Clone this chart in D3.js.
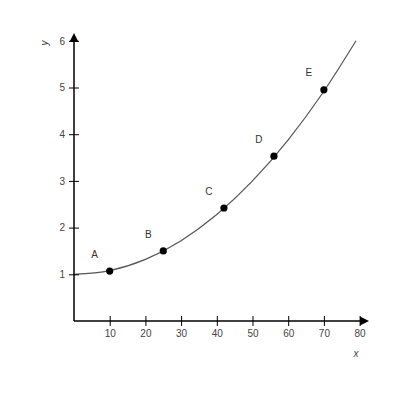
<!DOCTYPE html>
<html>
<head>
<meta charset="utf-8">
<script src="https://cdn.jsdelivr.net/npm/d3@7"></script>
<style>
	body{margin:0;background:#fff;}
	text{font-family:"Liberation Sans",Arial,sans-serif;}
</style>
</head>
<body>
<div id="grafica"></div>
<script>
// puntos marcados sobre la curva
var etiquetas=["A","B","C","D","E"];
var puntosX=[10,25,42,56,70];
var puntosY=[1.07,1.5,2.42,3.53,4.95];

// la curva
var curvaX=[0,10,20,30,40,50,60,70,79];
var curvaY=[1.0,1.08,1.32,1.72,2.28,3.0,3.88,4.92,6.0];

var ticksX=[10,20,30,40,50,60,70,80];
var ticksY=[1,2,3,4,5,6];

var ancho=400, alto=400;

var svg=d3.select("#grafica")
	.append("svg")
	.attr("width",ancho)
	.attr("height",alto);

var x=d3.scaleLinear().domain([0,80]).range([74,359.6]);
var y=d3.scaleLinear().domain([0,6]).range([321,40.8]);

// curva
var linea=d3.line()
	.x(d=>x(d[0]))
	.y(d=>y(d[1]))
	.curve(d3.curveMonotoneX);

svg.append("path")
	.datum(d3.zip(curvaX,curvaY))
	.attr("d",linea)
	.style("fill","none")
	.style("stroke","#555")
	.style("stroke-width","1.2px");

// ejes
var ejeX=svg.append("g").attr("transform",`translate(0,${y(0)})`)
	.call(d3.axisBottom(x).tickValues(ticksX).tickFormat(d3.format("d")).tickSize(5).tickSizeOuter(0));
var ejeY=svg.append("g").attr("transform",`translate(${x(0)},0)`)
	.call(d3.axisLeft(y).tickValues(ticksY).tickFormat(d3.format("d")).tickSize(5).tickSizeOuter(0));

[ejeX,ejeY].forEach(function(g){
	g.select(".domain").remove();
	g.selectAll(".tick line").style("stroke","#000").style("stroke-width","1px");
	g.selectAll(".tick text").style("font-size","10px").style("fill","#444");
});
// marcas que cruzan el eje
ejeX.selectAll(".tick line").attr("y1",-5).attr("y2",5);
ejeX.selectAll(".tick text").attr("y",9);
ejeY.selectAll(".tick line").attr("x1",5).attr("x2",-5);
ejeY.selectAll(".tick text").attr("x",-9);

svg.append("line")
	.attr("x1",x(0)).attr("x2",362)
	.attr("y1",y(0)).attr("y2",y(0))
	.style("stroke","#000").style("stroke-width","1.5px");
svg.append("path")
	.attr("d",`M369,${y(0)} L360,${y(0)-4.5} L360,${y(0)+4.5} Z`)
	.style("fill","#000");

svg.append("line")
	.attr("x1",x(0)).attr("x2",x(0))
	.attr("y1",y(0)).attr("y2",40)
	.style("stroke","#000").style("stroke-width","1.5px");
svg.append("path")
	.attr("d",`M${x(0)},33 L${x(0)-4.5},42 L${x(0)+4.5},42 Z`)
	.style("fill","#000");

// titulos de ejes
svg.append("text")
	.attr("transform","translate(45,43) rotate(-90)")
	.style("font-size","10px").style("font-style","italic").style("fill","#444")
	.style("text-anchor","middle").style("dominant-baseline","middle")
	.text("y");
svg.append("text")
	.attr("x",356).attr("y",354)
	.style("font-size","10px").style("font-style","italic").style("fill","#444")
	.style("text-anchor","middle").style("dominant-baseline","middle")
	.text("x");

// puntos
var datos=d3.zip(puntosX,puntosY,etiquetas);
svg.selectAll(".punto")
	.data(datos)
	.enter()
	.append("circle")
	.attr("class","punto")
	.attr("cx",d=>x(d[0]))
	.attr("cy",d=>y(d[1]))
	.attr("r",3.6)
	.style("fill","#000");

svg.selectAll(".etiqueta")
	.data(datos)
	.enter()
	.append("text")
	.attr("class","etiqueta")
	.attr("x",d=>x(d[0])-15)
	.attr("y",d=>y(d[1])-16)
	.style("font-size","10px").style("fill","#333")
	.style("text-anchor","middle").style("dominant-baseline","middle")
	.text(d=>d[2]);
</script>
</body>
</html>
